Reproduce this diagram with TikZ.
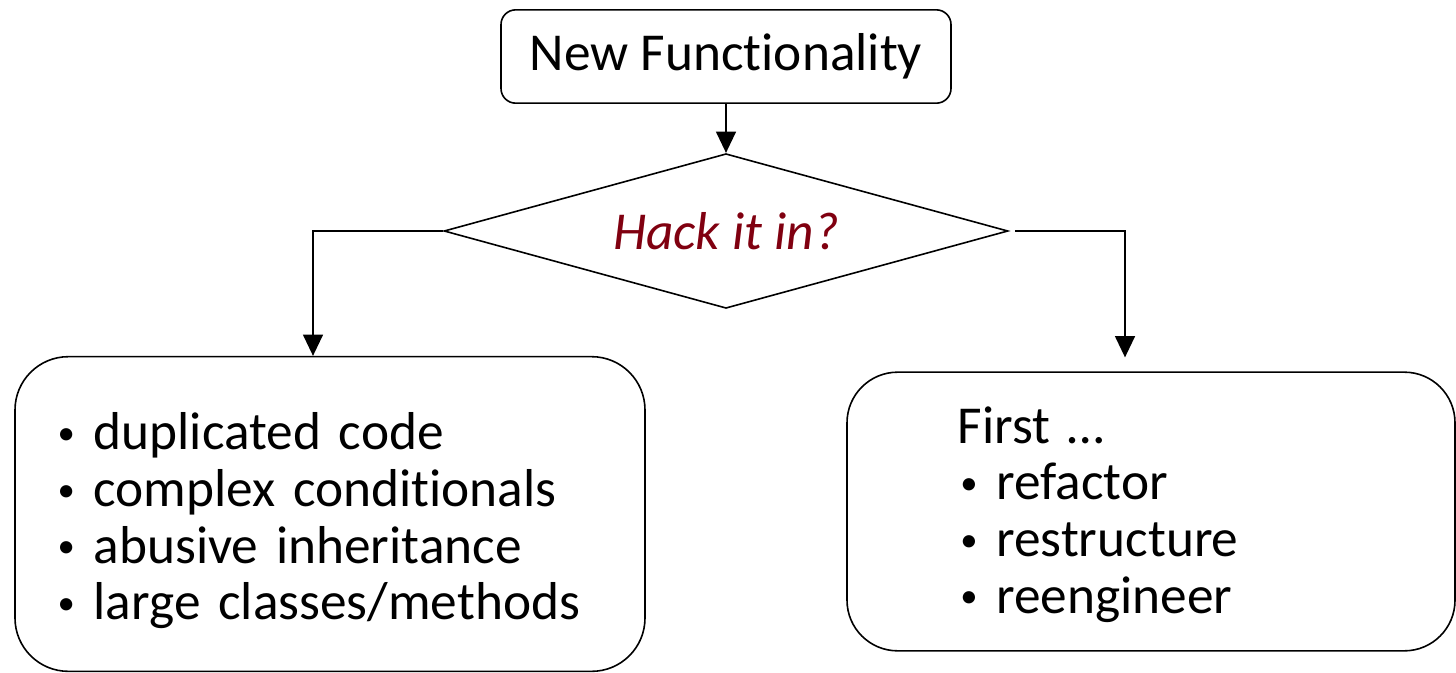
\documentclass[tikz,border=0pt]{standalone}
\usepackage{fontspec}
\setmainfont{Carlito}[Ligatures=NoCommon]
\usepackage{tikz}
\usetikzlibrary{shapes.geometric,arrows.meta}

\definecolor{hackred}{RGB}{128,0,16}
\newcommand{\itm}{\makebox[29pt][l]{\hspace{2pt}\raisebox{4pt}{\scalebox{0.65}{\textbullet}}}}

\begin{document}
\begin{tikzpicture}[x=0.75pt,y=-0.75pt,line width=1.2pt,
    box/.style={draw, rounded corners=#1, align=left, font=\fontsize{40}{42.5}\selectfont},
    box/.default=11pt,
    arr/.style={-{Triangle[length=16pt,width=15pt]}}]

    \useasboundingbox (0,0) rectangle (1456,672);

    \node[box, minimum width=337.5pt, minimum height=70pt] (newf) at (726,56.5) {New Functionality};
    \node[draw, diamond, aspect=3.6, inner sep=0pt, minimum width=423pt, minimum height=116pt,
          font=\fontsize{40}{42.5}\selectfont\itshape, text=hackred] (hack) at (726,231) {Hack it in?};

    \node[box=40pt, text width=412.5pt, inner xsep=30pt, minimum height=236pt] (smells) at (330,514)
        {\rule{0pt}{38pt}\itm duplicated code\\ \itm complex conditionals\\ \itm abusive inheritance\\ \itm large classes/methods};
    \node[box=38pt, text width=290pt, inner xsep=83pt, minimum height=209pt] (refac) at (1151,511.5)
        {\rule{0pt}{32pt}First …\\ \itm refactor\\ \itm restructure\\ \itm reengineer};

    \draw[arr] (newf) -- (hack);
    \draw[arr] (hack.west) -| ([xshift=-12.75pt]smells.north);
    \draw[arr, shorten <=5pt, shorten >=10.5pt] (hack.east) -| ([xshift=-19.5pt]refac.north);

\end{tikzpicture}
\end{document}
